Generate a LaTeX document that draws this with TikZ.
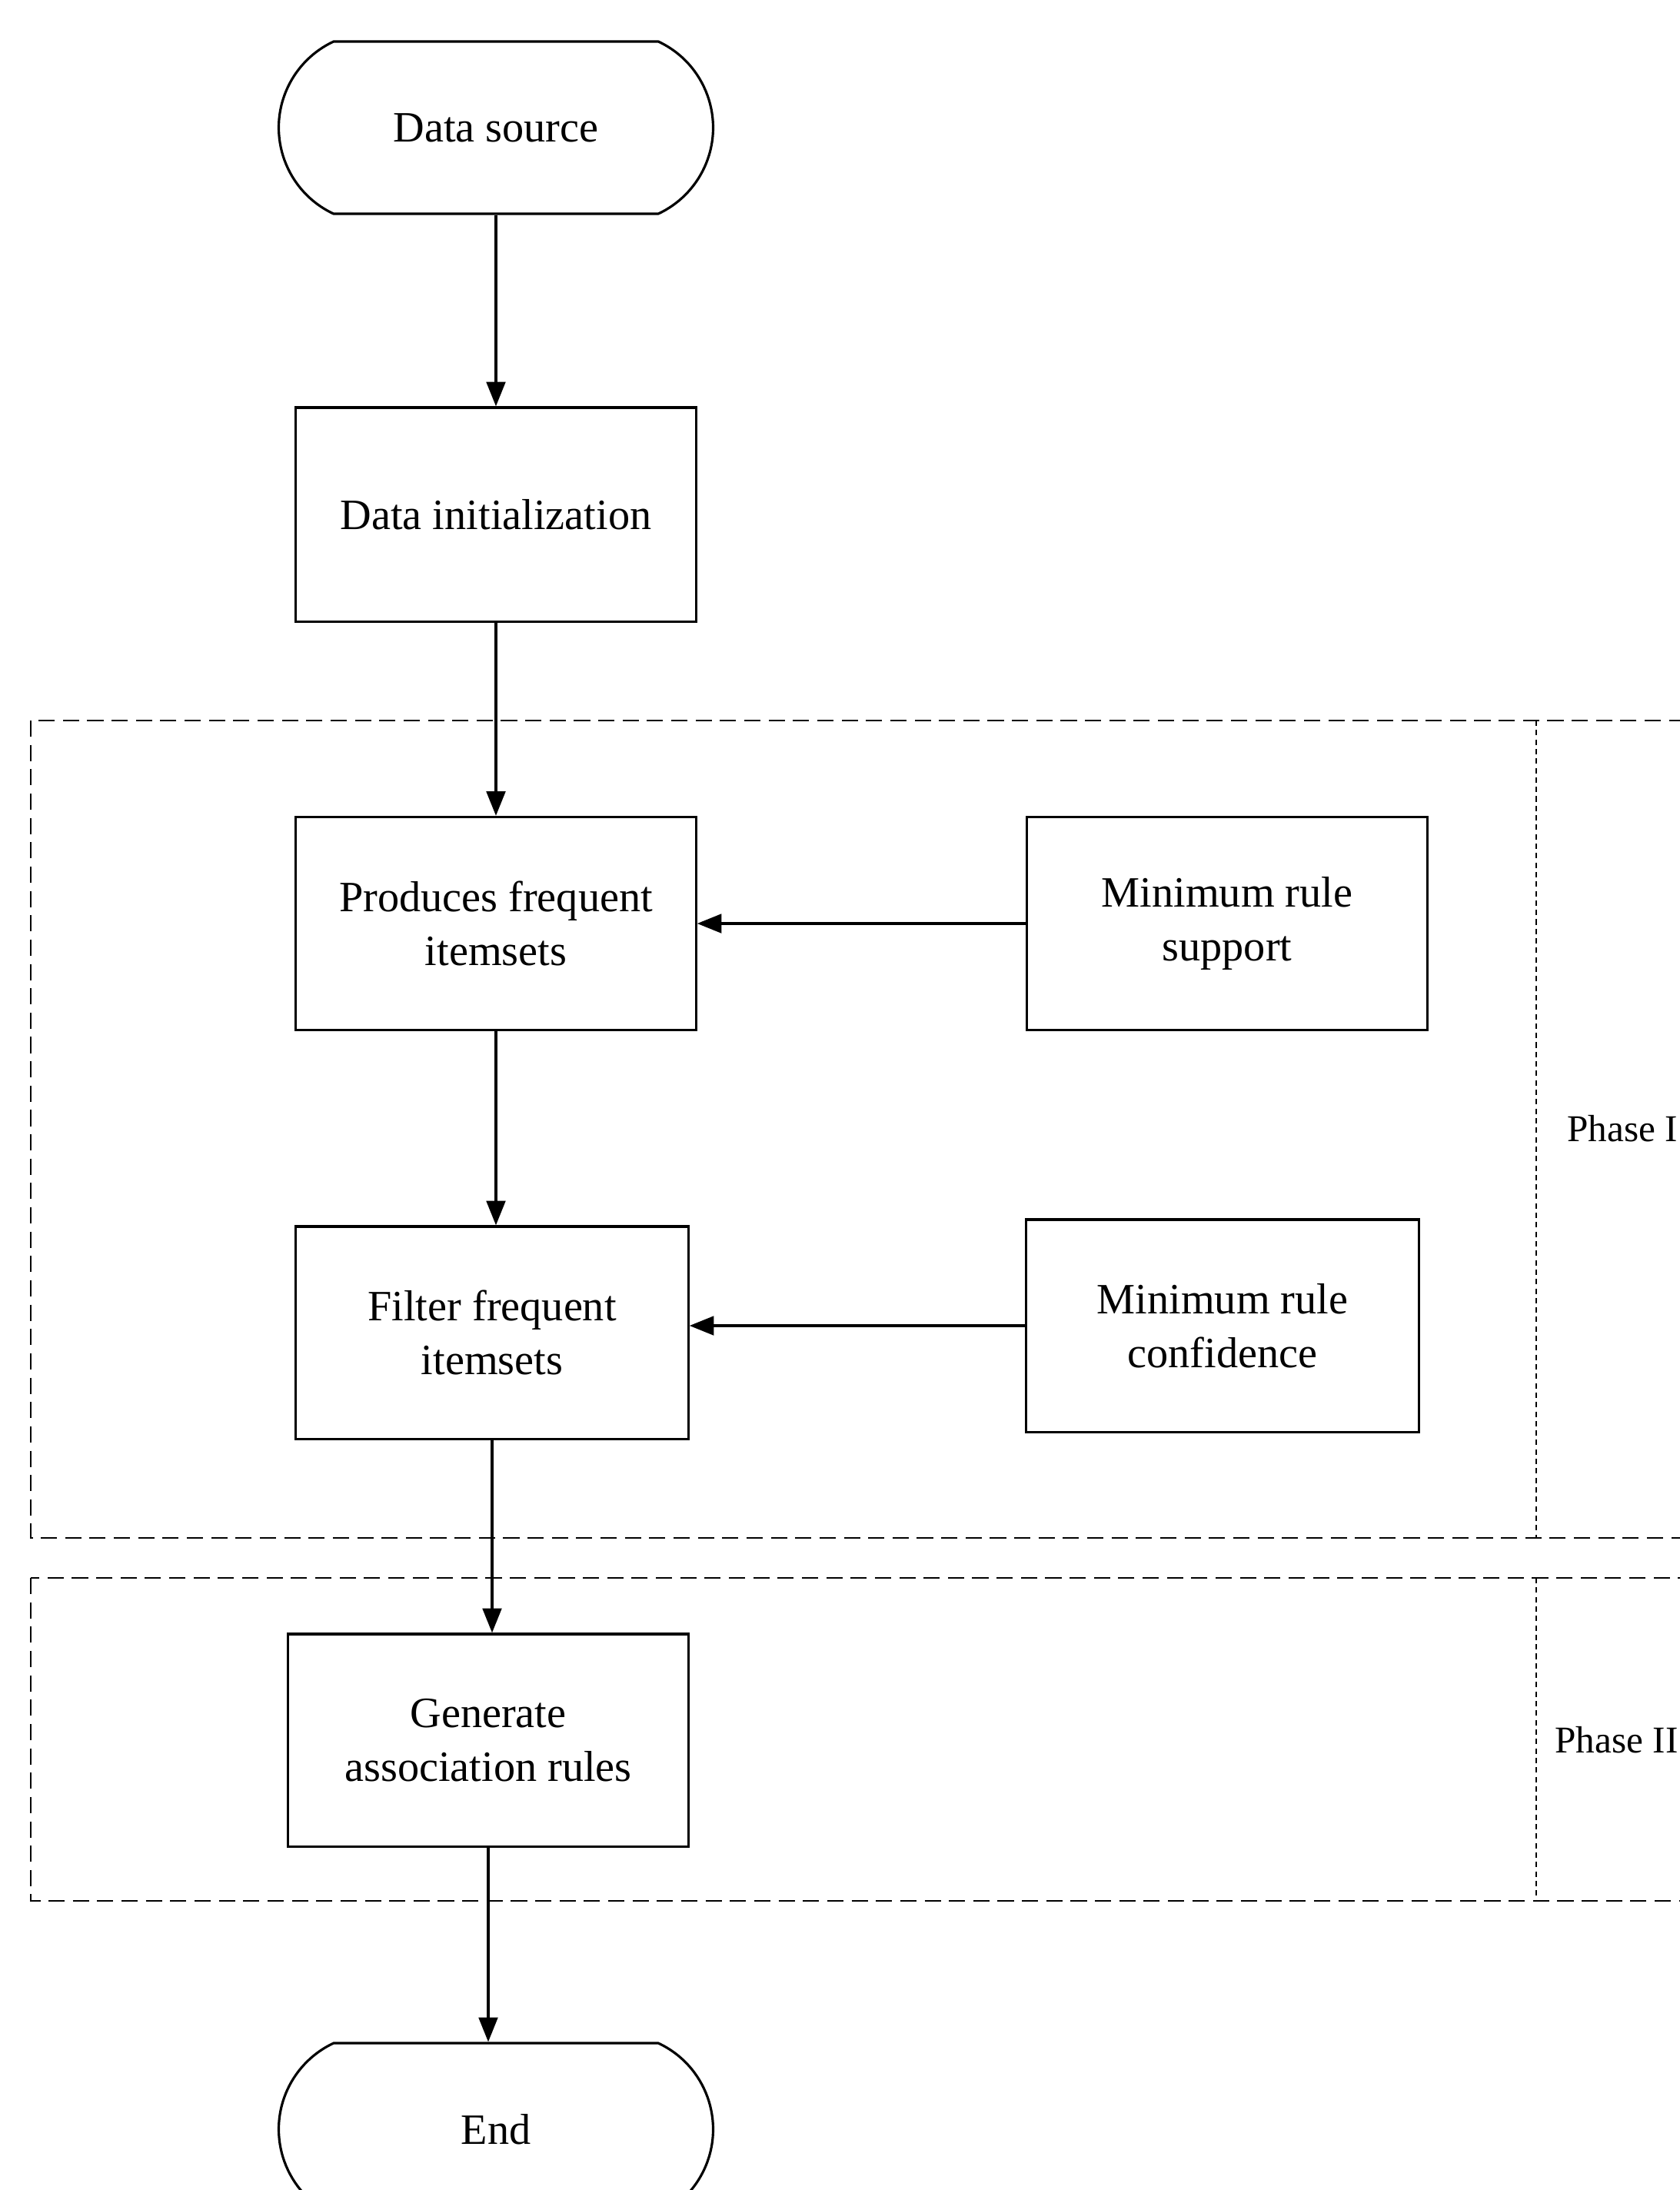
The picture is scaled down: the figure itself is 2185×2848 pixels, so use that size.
\documentclass[tikz,border=0pt]{standalone}
\usepackage{fontspec}
\setmainfont{Liberation Serif}
\usetikzlibrary{shapes.misc,arrows.meta}

\begin{document}
\begin{tikzpicture}[x=0.01cm,y=-0.01cm,
        every node/.style={font=\fontsize{16}{20}\selectfont,align=center},
        proc/.style={draw,line width=0.9pt,minimum width=5.2cm,minimum height=2.77cm},
        term/.style={draw,line width=0.9pt,rounded rectangle,rounded rectangle arc length=130,minimum width=5.88cm,minimum height=2.24cm},
        flow/.style={line width=0.9pt,-{Triangle[length=9pt,width=7pt]}},
        phase/.style={line width=0.8pt,dash pattern=on 6pt off 3pt},
        split/.style={line width=0.8pt,dash pattern=on 2pt off 1.5pt}]
        \useasboundingbox (0,0) rectangle (2185,2848);
        \clip (0,0) rectangle (2185,2848);
        % phases
        \draw[phase] (40,937) rectangle (2300,2000);
        \draw[split] (1998,937) -- (1998,2000);
        \draw[phase] (40,2052) rectangle (2300,2472);
        \draw[split] (1998,2052) -- (1998,2472);
        \node[anchor=west,font=\fontsize{14}{17}\selectfont] (ph1) at (2026,1468) {Phase I};
        \node[anchor=west,font=\fontsize{14}{17}\selectfont] (ph2) at (2010,2263) {Phase II};
        % flow
        \node[term] (src) at (645,166) {Data source};
        \node[proc,minimum height=2.78cm] (init) at (645,669) {Data initialization};
        \node[proc] (prod) at (645,1201) {Produces frequent\\itemsets};
        \node[proc,minimum width=5.21cm] (sup) at (1596,1201) {Minimum rule\\support};
        \node[proc,minimum width=5.1cm,minimum height=2.76cm] (filt) at (640,1733) {Filter frequent\\itemsets};
        \node[proc,minimum width=5.1cm,minimum height=2.76cm] (conf) at (1590,1724) {Minimum rule\\confidence};
        \node[proc,minimum width=5.21cm,minimum height=2.76cm] (gen) at (635,2263) {Generate\\association rules};
        \node[term] (fin) at (645,2769) {End};
        \draw[flow] (src.south) -- (src.south |- init.north);
        \draw[flow] (init.south) -- (init.south |- prod.north);
        \draw[flow] (prod.south) -- (prod.south |- filt.north);
        \draw[flow] (filt.south) -- (filt.south |- gen.north);
        \draw[flow] (gen.south) -- (gen.south |- fin.north);
        \draw[flow] (sup.west) -- (sup.west -| prod.east);
        \draw[flow] (conf.west) -- (conf.west -| filt.east);
\end{tikzpicture}
\end{document}
